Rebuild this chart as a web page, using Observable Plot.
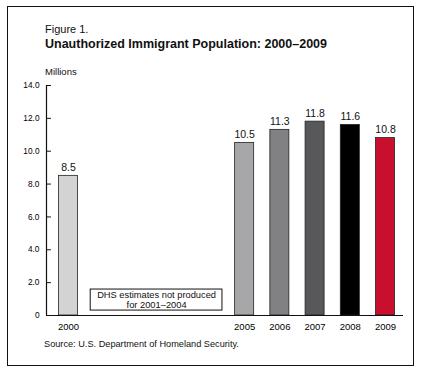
<!DOCTYPE html>
<html>
<head>
<meta charset="utf-8">
<script src="https://cdn.jsdelivr.net/npm/d3@7"></script>
<script src="https://cdn.jsdelivr.net/npm/@observablehq/plot@0.6"></script>
<style>
  html, body { margin: 0; padding: 0; background: #fff; }
  body { width: 424px; height: 378px; position: relative; overflow: hidden; font-family: "Liberation Sans", Arial, sans-serif; }
  #frame { position: absolute; left: 7px; top: 6px; width: 405px; height: 358px; border: 1.5px solid #111; }
  .t { position: absolute; white-space: nowrap; color: #111; }
  #fig { left: 45px; top: 23px; font-size: 11px; }
  #title { left: 45px; top: 37px; font-size: 12.5px; font-weight: bold; }
  #units { left: 45px; top: 66px; font-size: 9.5px; }
  #source { left: 44px; top: 339px; font-size: 9.2px; }
  #chart { position: absolute; left: 0; top: 0; }
</style>
</head>
<body>
<div id="frame"></div>
<div class="t" id="fig">Figure 1.</div>
<div class="t" id="title">Unauthorized Immigrant Population: 2000–2009</div>
<div class="t" id="units">Millions</div>
<div class="t" id="source">Source: U.S. Department of Homeland Security.</div>
<div id="chart"></div>
<script>
const years = [2000, 2005, 2006, 2007, 2008, 2009];
const values = [8.5, 10.5, 11.3, 11.8, 11.6, 10.8];
const colors = ["#d3d3d4", "#a7a7a9", "#818183", "#58585a", "#000000", "#c8102e"];
const yTicks = [0, 2, 4, 6, 8, 10, 12, 14];
const gapYears = [2001, 2004];
const noteLines = ["DHS estimates not produced", "for 2001–2004"];

const data = years.map((y, i) => ({year: y, value: values[i], color: colors[i]}));
const half = 0.27;
const x0 = 1999.375, x1 = 2009.51;

const chart = Plot.plot({
  width: 424,
  height: 378,
  marginLeft: 46,
  marginRight: 21,
  marginTop: 85,
  marginBottom: 63,
  style: {fontFamily: "Liberation Sans, Arial, sans-serif", background: "transparent", overflow: "visible"},
  x: {type: "linear", domain: [x0, x1]},
  y: {domain: [0, 14]},
  marks: [
    Plot.rectY(data, {x1: d => d.year - half, x2: d => d.year + half, y1: 0, y2: "value", fill: "color", stroke: "#222", strokeWidth: 0.8}),
    Plot.text(data, {x: "year", y: "value", text: d => d.value.toFixed(1), dy: -8.5, fontSize: 10.5, fill: "#111"}),
    Plot.rect([{a: gapYears[0] - 0.37, b: gapYears[1] + 0.37}], {x1: "a", x2: "b", y1: 0.3, y2: 1.58, fill: "white", stroke: "#111", strokeWidth: 1}),
    Plot.text([noteLines.join("\n")], {x: (gapYears[0] + gapYears[1]) / 2, y: 0.94, text: d => d, fontSize: 9.3, lineHeight: 1.0, fill: "#111"}),
    Plot.ruleX([x0], {y1: 0, y2: 14, stroke: "#111", strokeWidth: 1.2}),
    Plot.ruleY([0], {stroke: "#111", strokeWidth: 1.2}),
    Plot.ruleY(yTicks, {y: d => d, x1: x0, x2: x0 + 0.14, stroke: "#111"}),
    Plot.axisY({ticks: yTicks, tickFormat: d => d === 0 ? "0" : d.toFixed(1), tickSize: 0, tickPadding: 7, fontSize: 8.3, label: null}),
    Plot.axisX({ticks: years, tickFormat: d => String(d), tickSize: 0, tickPadding: 8, fontSize: 9.5, label: null})
  ]
});
document.getElementById("chart").appendChild(chart);
</script>
</body>
</html>
